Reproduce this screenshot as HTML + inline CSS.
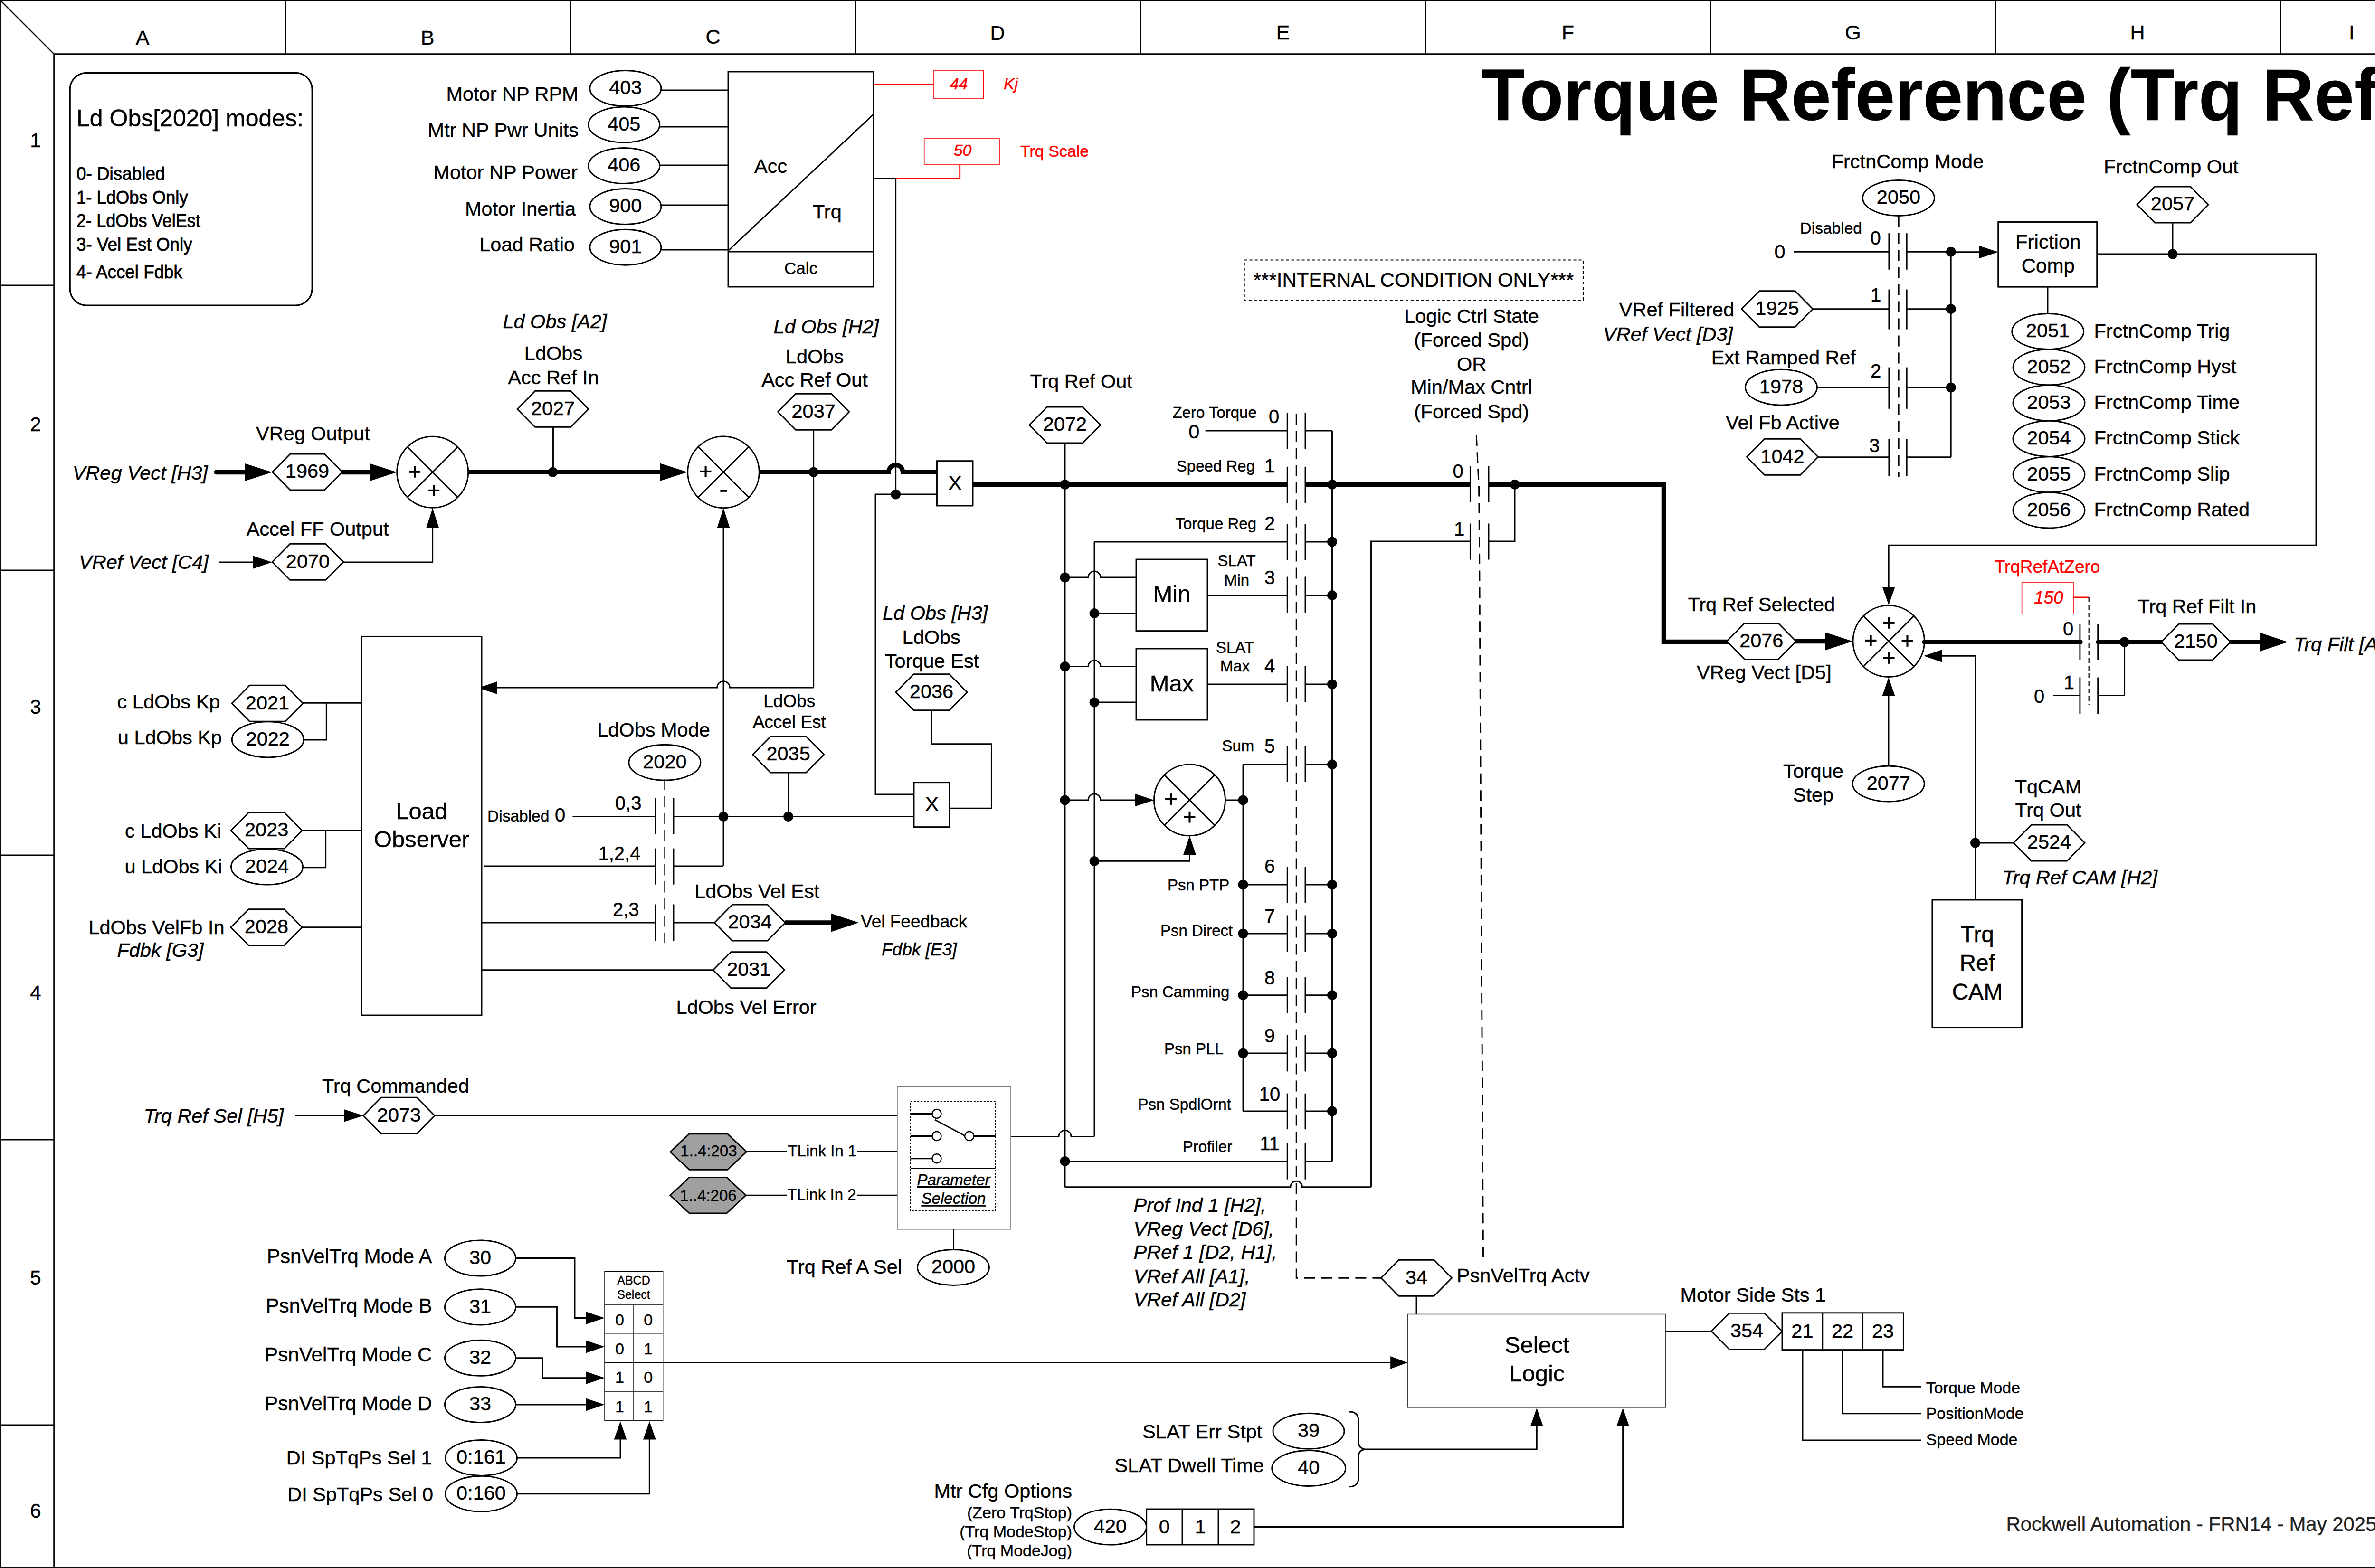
<!DOCTYPE html>
<html><head><meta charset="utf-8"><style>
html,body{margin:0;padding:0;background:#fff;}
svg{display:block;font-family:"Liberation Sans",sans-serif;}
</style></head><body>
<svg width="5101" height="3302" viewBox="0 0 5101 3302">
<rect x="0" y="0" width="5101" height="3302" fill="#fff"/>
<rect x="1.9" y="1.7" width="5098.3" height="3298.4" fill="none" stroke="#000" stroke-width="1.7"/>
<line x1="113.6" y1="113.6" x2="5101" y2="113.6" stroke="#000" stroke-width="2.7" stroke-linecap="butt"/>
<line x1="113.6" y1="113.6" x2="113.6" y2="3302" stroke="#000" stroke-width="2.7" stroke-linecap="butt"/>
<line x1="1" y1="1" x2="113.6" y2="113.6" stroke="#000" stroke-width="2.5" stroke-linecap="butt"/>
<line x1="601" y1="0" x2="601" y2="113" stroke="#000" stroke-width="2.8" stroke-linecap="butt"/>
<line x1="1201" y1="0" x2="1201" y2="113" stroke="#000" stroke-width="2.8" stroke-linecap="butt"/>
<line x1="1801" y1="0" x2="1801" y2="113" stroke="#000" stroke-width="2.8" stroke-linecap="butt"/>
<line x1="2401" y1="0" x2="2401" y2="113" stroke="#000" stroke-width="2.8" stroke-linecap="butt"/>
<line x1="3001" y1="0" x2="3001" y2="113" stroke="#000" stroke-width="2.8" stroke-linecap="butt"/>
<line x1="3601" y1="0" x2="3601" y2="113" stroke="#000" stroke-width="2.8" stroke-linecap="butt"/>
<line x1="4201" y1="0" x2="4201" y2="113" stroke="#000" stroke-width="2.8" stroke-linecap="butt"/>
<line x1="4801" y1="0" x2="4801" y2="113" stroke="#000" stroke-width="2.8" stroke-linecap="butt"/>
<line x1="0" y1="601" x2="113" y2="601" stroke="#000" stroke-width="2.8" stroke-linecap="butt"/>
<line x1="0" y1="1201" x2="113" y2="1201" stroke="#000" stroke-width="2.8" stroke-linecap="butt"/>
<line x1="0" y1="1801" x2="113" y2="1801" stroke="#000" stroke-width="2.8" stroke-linecap="butt"/>
<line x1="0" y1="2400" x2="113" y2="2400" stroke="#000" stroke-width="2.8" stroke-linecap="butt"/>
<line x1="0" y1="3001" x2="113" y2="3001" stroke="#000" stroke-width="2.8" stroke-linecap="butt"/>
<text x="300" y="93.5" font-size="43" text-anchor="middle" fill="#000" stroke="#000" stroke-width="0.45">A</text>
<text x="900" y="93.5" font-size="43" text-anchor="middle" fill="#000" stroke="#000" stroke-width="0.45">B</text>
<text x="1501" y="92" font-size="43" text-anchor="middle" fill="#000" stroke="#000" stroke-width="0.45">C</text>
<text x="2100" y="84" font-size="43" text-anchor="middle" fill="#000" stroke="#000" stroke-width="0.45">D</text>
<text x="2701" y="83" font-size="43" text-anchor="middle" fill="#000" stroke="#000" stroke-width="0.45">E</text>
<text x="3301" y="83" font-size="43" text-anchor="middle" fill="#000" stroke="#000" stroke-width="0.45">F</text>
<text x="3901" y="83" font-size="43" text-anchor="middle" fill="#000" stroke="#000" stroke-width="0.45">G</text>
<text x="4500" y="83" font-size="43" text-anchor="middle" fill="#000" stroke="#000" stroke-width="0.45">H</text>
<text x="4951" y="83" font-size="43" text-anchor="middle" fill="#000" stroke="#000" stroke-width="0.45">I</text>
<text x="75" y="309.6" font-size="42" text-anchor="middle" fill="#000" stroke="#000" stroke-width="0.45">1</text>
<text x="75" y="908" font-size="42" text-anchor="middle" fill="#000" stroke="#000" stroke-width="0.45">2</text>
<text x="75" y="1502.7" font-size="42" text-anchor="middle" fill="#000" stroke="#000" stroke-width="0.45">3</text>
<text x="75" y="2105.4" font-size="42" text-anchor="middle" fill="#000" stroke="#000" stroke-width="0.45">4</text>
<text x="75" y="2704.7" font-size="42" text-anchor="middle" fill="#000" stroke="#000" stroke-width="0.45">5</text>
<text x="75" y="3195.7" font-size="42" text-anchor="middle" fill="#000" stroke="#000" stroke-width="0.45">6</text>
<text x="3118" y="253" font-size="154" text-anchor="start" fill="#000" stroke="#000" stroke-width="0.45" font-weight="bold" textLength="1939" lengthAdjust="spacingAndGlyphs">Torque Reference (Trq Ref)</text>
<rect x="147.2" y="153.3" width="510.00000000000006" height="489.8" fill="none" stroke="#000" stroke-width="3.2" rx="35"/>
<text x="161" y="266" font-size="50" text-anchor="start" fill="#000" stroke="#000" stroke-width="0.45">Ld Obs[2020] modes:</text>
<text x="161" y="379" font-size="39" text-anchor="start" fill="#000" stroke="#000" stroke-width="0.9" textLength="186.4" lengthAdjust="spacingAndGlyphs">0- Disabled</text>
<text x="161" y="428.6" font-size="39" text-anchor="start" fill="#000" stroke="#000" stroke-width="0.9" textLength="234.6" lengthAdjust="spacingAndGlyphs">1- LdObs Only</text>
<text x="161" y="478" font-size="39" text-anchor="start" fill="#000" stroke="#000" stroke-width="0.9" textLength="260.9" lengthAdjust="spacingAndGlyphs">2- LdObs VelEst</text>
<text x="161" y="528" font-size="39" text-anchor="start" fill="#000" stroke="#000" stroke-width="0.9" textLength="243.7" lengthAdjust="spacingAndGlyphs">3- Vel Est Only</text>
<text x="161" y="585.5" font-size="39" text-anchor="start" fill="#000" stroke="#000" stroke-width="0.9" textLength="223" lengthAdjust="spacingAndGlyphs">4- Accel Fdbk</text>
<line x1="1390.8" y1="190" x2="1533" y2="190" stroke="#000" stroke-width="2.9" stroke-linecap="butt"/>
<ellipse cx="1316.8" cy="186" rx="75" ry="37.5" fill="#fff" stroke="#000" stroke-width="2.9"/>
<text x="1316.8" y="198.4" font-size="41.5" text-anchor="middle" fill="#000" stroke="#000" stroke-width="0.45">403</text>
<text x="1217.7" y="211.6" font-size="41.5" text-anchor="end" fill="#000" stroke="#000" stroke-width="0.45">Motor NP RPM</text>
<line x1="1387.8" y1="267" x2="1533" y2="267" stroke="#000" stroke-width="2.9" stroke-linecap="butt"/>
<ellipse cx="1313.8" cy="262.5" rx="75" ry="37.5" fill="#fff" stroke="#000" stroke-width="2.9"/>
<text x="1313.8" y="274.9" font-size="41.5" text-anchor="middle" fill="#000" stroke="#000" stroke-width="0.45">405</text>
<text x="1218" y="288" font-size="41.5" text-anchor="end" fill="#000" stroke="#000" stroke-width="0.45">Mtr NP Pwr Units</text>
<line x1="1387.8" y1="348" x2="1533" y2="348" stroke="#000" stroke-width="2.9" stroke-linecap="butt"/>
<ellipse cx="1313.8" cy="349" rx="75" ry="37.5" fill="#fff" stroke="#000" stroke-width="2.9"/>
<text x="1313.8" y="361.4" font-size="41.5" text-anchor="middle" fill="#000" stroke="#000" stroke-width="0.45">406</text>
<text x="1216" y="376.6" font-size="41.5" text-anchor="end" fill="#000" stroke="#000" stroke-width="0.45">Motor NP Power</text>
<line x1="1390.8" y1="432" x2="1533" y2="432" stroke="#000" stroke-width="2.9" stroke-linecap="butt"/>
<ellipse cx="1316.8" cy="435" rx="75" ry="37.5" fill="#fff" stroke="#000" stroke-width="2.9"/>
<text x="1316.8" y="447.4" font-size="41.5" text-anchor="middle" fill="#000" stroke="#000" stroke-width="0.45">900</text>
<text x="1212" y="453.7" font-size="41.5" text-anchor="end" fill="#000" stroke="#000" stroke-width="0.45">Motor Inertia</text>
<line x1="1390.8" y1="526" x2="1533" y2="526" stroke="#000" stroke-width="2.9" stroke-linecap="butt"/>
<ellipse cx="1316.8" cy="520.7" rx="75" ry="37.5" fill="#fff" stroke="#000" stroke-width="2.9"/>
<text x="1316.8" y="533.1" font-size="41.5" text-anchor="middle" fill="#000" stroke="#000" stroke-width="0.45">901</text>
<text x="1210" y="529" font-size="41.5" text-anchor="end" fill="#000" stroke="#000" stroke-width="0.45">Load Ratio</text>
<rect x="1533" y="151" width="305.5999999999999" height="453" fill="none" stroke="#000" stroke-width="2.9"/>
<line x1="1533" y1="530" x2="1838.6" y2="530" stroke="#000" stroke-width="2.9" stroke-linecap="butt"/>
<line x1="1533" y1="528" x2="1838.6" y2="241" stroke="#000" stroke-width="2.9" stroke-linecap="butt"/>
<text x="1588" y="364" font-size="41.5" text-anchor="start" fill="#000" stroke="#000" stroke-width="0.45">Acc</text>
<text x="1711" y="460" font-size="41.5" text-anchor="start" fill="#000" stroke="#000" stroke-width="0.45">Trq</text>
<text x="1686" y="577" font-size="35" text-anchor="middle" fill="#000" stroke="#000" stroke-width="0.45">Calc</text>
<line x1="1838.6" y1="178" x2="1966" y2="178" stroke="#ff0000" stroke-width="2.9" stroke-linecap="butt"/>
<rect x="1966" y="148" width="104.5" height="60" fill="#fff" stroke="#ff0000" stroke-width="1.6"/>
<text x="2018.6" y="187.5" font-size="34" text-anchor="middle" fill="#ff0000" stroke="#ff0000" stroke-width="0.45" font-style="italic">44</text>
<text x="2113" y="187.5" font-size="34" text-anchor="start" fill="#ff0000" stroke="#ff0000" stroke-width="0.45" font-style="italic">Kj</text>
<rect x="1945.7" y="292" width="158.29999999999995" height="55" fill="#fff" stroke="#ff0000" stroke-width="1.6"/>
<text x="2026.6" y="328" font-size="34" text-anchor="middle" fill="#ff0000" stroke="#ff0000" stroke-width="0.45" font-style="italic">50</text>
<text x="2148" y="329.5" font-size="34" text-anchor="start" fill="#ff0000" stroke="#ff0000" stroke-width="0.45">Trq Scale</text>
<polyline points="2020.7,347 2020.7,376 1885.7,376" fill="none" stroke="#ff0000" stroke-width="2.9" stroke-linecap="butt" stroke-linejoin="miter"/>
<line x1="1838.6" y1="376" x2="1885.7" y2="376" stroke="#000" stroke-width="2.9" stroke-linecap="butt"/>
<text x="152.7" y="1009.8" font-size="41.5" text-anchor="start" fill="#000" stroke="#000" stroke-width="0.45" font-style="italic">VReg Vect [H3]</text>
<line x1="455" y1="994.5" x2="520" y2="994.5" stroke="#000" stroke-width="9.5" stroke-linecap="round"/>
<polygon points="573.0,994.5 515.0,975.8 515.0,1013.2" fill="#000"/>
<polygon points="573.5,994.0 611.0,956.0 683.0,956.0 720.5,994.0 683.0,1032.0 611.0,1032.0" fill="#fff" stroke="#000" stroke-width="2.9"/>
<text x="647" y="1006.4" font-size="41.5" text-anchor="middle" fill="#000" stroke="#000" stroke-width="0.45">1969</text>
<line x1="720.5" y1="994.5" x2="780" y2="994.5" stroke="#000" stroke-width="9.5" stroke-linecap="butt"/>
<polygon points="835.7,994.5 778.0,975.8 778.0,1013.2" fill="#000"/>
<text x="659" y="926.8" font-size="41.5" text-anchor="middle" fill="#000" stroke="#000" stroke-width="0.45">VReg Output</text>
<circle cx="910.7" cy="994.3" r="75" fill="#fff" stroke="#000" stroke-width="2.9"/>
<line x1="857.6675" y1="941.2674999999999" x2="963.7325000000001" y2="1047.3325" stroke="#000" stroke-width="2.9" stroke-linecap="butt"/>
<line x1="857.6675" y1="1047.3325" x2="963.7325000000001" y2="941.2674999999999" stroke="#000" stroke-width="2.9" stroke-linecap="butt"/>
<rect x="861.30" y="991.75" width="23.8" height="4.1" fill="#000"/>
<rect x="871.15" y="981.90" width="4.1" height="23.8" fill="#000"/>
<rect x="901.50" y="1030.85" width="23.8" height="4.1" fill="#000"/>
<rect x="911.35" y="1021.00" width="4.1" height="23.8" fill="#000"/>
<line x1="985.7" y1="994.3" x2="1392" y2="994.3" stroke="#000" stroke-width="9.5" stroke-linecap="butt"/>
<polygon points="1447.5,994.3 1389.0,975.5 1389.0,1013.0" fill="#000"/>
<line x1="1164.5" y1="899.4" x2="1164.5" y2="994.3" stroke="#000" stroke-width="2.9" stroke-linecap="butt"/>
<circle cx="1163.6" cy="994.3" r="10.5" fill="#000"/>
<polygon points="1089.0,861.4 1126.5,823.4 1201.5,823.4 1239.0,861.4 1201.5,899.4 1126.5,899.4" fill="#fff" stroke="#000" stroke-width="2.9"/>
<text x="1164" y="873.8" font-size="41.5" text-anchor="middle" fill="#000" stroke="#000" stroke-width="0.45">2027</text>
<text x="1168" y="691" font-size="41.5" text-anchor="middle" fill="#000" stroke="#000" stroke-width="0.45" font-style="italic">Ld Obs [A2]</text>
<text x="1165" y="758" font-size="41.5" text-anchor="middle" fill="#000" stroke="#000" stroke-width="0.45">LdObs</text>
<text x="1165" y="809" font-size="41.5" text-anchor="middle" fill="#000" stroke="#000" stroke-width="0.45">Acc Ref In</text>
<text x="668.6" y="1127.7" font-size="41.5" text-anchor="middle" fill="#000" stroke="#000" stroke-width="0.45">Accel FF Output</text>
<text x="166" y="1198.4" font-size="41.5" text-anchor="start" fill="#000" stroke="#000" stroke-width="0.45" font-style="italic">VRef Vect [C4]</text>
<line x1="460.7" y1="1184" x2="540" y2="1184" stroke="#000" stroke-width="2.9" stroke-linecap="butt"/>
<polygon points="573.0,1184.0 533.0,1170.6 533.0,1197.4" fill="#000"/>
<polygon points="573.0,1183.4 610.5,1145.4 685.5,1145.4 723.0,1183.4 685.5,1221.4 610.5,1221.4" fill="#fff" stroke="#000" stroke-width="2.9"/>
<text x="648" y="1195.8000000000002" font-size="41.5" text-anchor="middle" fill="#000" stroke="#000" stroke-width="0.45">2070</text>
<polyline points="723,1184 910.7,1184 910.7,1105" fill="none" stroke="#000" stroke-width="2.9" stroke-linecap="butt" stroke-linejoin="miter"/>
<polygon points="910.7,1070.0 897.3,1111.6 924.1,1111.6" fill="#000"/>
<circle cx="1523" cy="994.3" r="75.3" fill="#fff" stroke="#000" stroke-width="2.9"/>
<line x1="1469.75537" y1="941.0553699999999" x2="1576.24463" y2="1047.5446299999999" stroke="#000" stroke-width="2.9" stroke-linecap="butt"/>
<line x1="1469.75537" y1="1047.5446299999999" x2="1576.24463" y2="941.0553699999999" stroke="#000" stroke-width="2.9" stroke-linecap="butt"/>
<rect x="1473.70" y="990.85" width="23.8" height="4.1" fill="#000"/>
<rect x="1483.55" y="981.00" width="4.1" height="23.8" fill="#000"/>
<rect x="1516.30" y="1031.80" width="13.8" height="4" fill="#000"/>
<line x1="1523" y1="1105" x2="1523" y2="1824" stroke="#000" stroke-width="2.9" stroke-linecap="butt"/>
<polygon points="1523.0,1070.0 1509.6,1111.6 1536.4,1111.6" fill="#000"/>
<path d="M1598,994.3 L1870.7,994.3 A15,15 0 0 1 1900.7,994.3 L1972.5,994.3" fill="none" stroke="#000" stroke-width="9.5"/>
<circle cx="1712.7" cy="994.3" r="10.5" fill="#000"/>
<polygon points="1637.7,867.3 1675.2,829.3 1750.2,829.3 1787.7,867.3 1750.2,905.3 1675.2,905.3" fill="#fff" stroke="#000" stroke-width="2.9"/>
<text x="1712.7" y="879.6999999999999" font-size="41.5" text-anchor="middle" fill="#000" stroke="#000" stroke-width="0.45">2037</text>
<line x1="1712.7" y1="905.3" x2="1712.7" y2="1448" stroke="#000" stroke-width="2.9" stroke-linecap="butt"/>
<path d="M1040,1448 L1509.6,1448 A13.4,13.4 0 0 1 1536.4,1448 L1712.7,1448" fill="none" stroke="#000" stroke-width="2.9"/>
<polygon points="1007.0,1448.5 1047.0,1435.1 1047.0,1461.9" fill="#000"/>
<text x="1628.6" y="702" font-size="41.5" text-anchor="start" fill="#000" stroke="#000" stroke-width="0.45" font-style="italic">Ld Obs [H2]</text>
<text x="1715" y="765" font-size="41.5" text-anchor="middle" fill="#000" stroke="#000" stroke-width="0.45">LdObs</text>
<text x="1715" y="814" font-size="41.5" text-anchor="middle" fill="#000" stroke="#000" stroke-width="0.45">Acc Ref Out</text>
<line x1="1885.7" y1="376" x2="1885.7" y2="1041" stroke="#000" stroke-width="2.9" stroke-linecap="butt"/>
<circle cx="1885.7" cy="1041" r="10.5" fill="#000"/>
<polyline points="1970,1041 1843,1041 1843,1673 1924.3,1673" fill="none" stroke="#000" stroke-width="2.9" stroke-linecap="butt" stroke-linejoin="miter"/>
<rect x="1972.5" y="970.7" width="75.5" height="94.29999999999995" fill="#fff" stroke="#000" stroke-width="2.9"/>
<text x="2010.5" y="1031" font-size="41.5" text-anchor="middle" fill="#000" stroke="#000" stroke-width="0.45">X</text>
<line x1="2048" y1="1020.5" x2="2710.2" y2="1020.5" stroke="#000" stroke-width="9.5" stroke-linecap="butt"/>
<circle cx="2242" cy="1020.5" r="10.5" fill="#000"/>
<polygon points="2167.0,895.0 2204.5,857.0 2279.5,857.0 2317.0,895.0 2279.5,933.0 2204.5,933.0" fill="#fff" stroke="#000" stroke-width="2.9"/>
<text x="2242" y="907.4" font-size="41.5" text-anchor="middle" fill="#000" stroke="#000" stroke-width="0.45">2072</text>
<text x="2168.6" y="817" font-size="41.5" text-anchor="start" fill="#000" stroke="#000" stroke-width="0.45">Trq Ref Out</text>
<!--SECTION2-->
<line x1="2804.5" y1="907.1" x2="2804.5" y2="2445.4" stroke="#000" stroke-width="2.9" stroke-linecap="butt"/>
<line x1="2710.2" y1="869.7" x2="2710.2" y2="945.7" stroke="#000" stroke-width="2.9" stroke-linecap="butt"/>
<line x1="2748.0" y1="869.7" x2="2748.0" y2="945.7" stroke="#000" stroke-width="2.9" stroke-linecap="butt"/>
<text x="2682" y="891.4" font-size="40" text-anchor="middle" fill="#000" stroke="#000" stroke-width="0.45">0</text>
<line x1="2748.0" y1="907.1" x2="2804.5" y2="907.1" stroke="#000" stroke-width="2.9" stroke-linecap="butt"/>
<line x1="2710.2" y1="982.8" x2="2710.2" y2="1059" stroke="#000" stroke-width="2.9" stroke-linecap="butt"/>
<line x1="2748.0" y1="982.8" x2="2748.0" y2="1059" stroke="#000" stroke-width="2.9" stroke-linecap="butt"/>
<text x="2673" y="994.5" font-size="40" text-anchor="middle" fill="#000" stroke="#000" stroke-width="0.45">1</text>
<line x1="2710.2" y1="1103.6" x2="2710.2" y2="1180" stroke="#000" stroke-width="2.9" stroke-linecap="butt"/>
<line x1="2748.0" y1="1103.6" x2="2748.0" y2="1180" stroke="#000" stroke-width="2.9" stroke-linecap="butt"/>
<text x="2673" y="1116" font-size="40" text-anchor="middle" fill="#000" stroke="#000" stroke-width="0.45">2</text>
<line x1="2748.0" y1="1141" x2="2804.5" y2="1141" stroke="#000" stroke-width="2.9" stroke-linecap="butt"/>
<line x1="2710.2" y1="1214.5" x2="2710.2" y2="1291" stroke="#000" stroke-width="2.9" stroke-linecap="butt"/>
<line x1="2748.0" y1="1214.5" x2="2748.0" y2="1291" stroke="#000" stroke-width="2.9" stroke-linecap="butt"/>
<text x="2673" y="1229.5" font-size="40" text-anchor="middle" fill="#000" stroke="#000" stroke-width="0.45">3</text>
<line x1="2748.0" y1="1253.6" x2="2804.5" y2="1253.6" stroke="#000" stroke-width="2.9" stroke-linecap="butt"/>
<line x1="2710.2" y1="1402.5" x2="2710.2" y2="1478.6" stroke="#000" stroke-width="2.9" stroke-linecap="butt"/>
<line x1="2748.0" y1="1402.5" x2="2748.0" y2="1478.6" stroke="#000" stroke-width="2.9" stroke-linecap="butt"/>
<text x="2673" y="1416" font-size="40" text-anchor="middle" fill="#000" stroke="#000" stroke-width="0.45">4</text>
<line x1="2748.0" y1="1441" x2="2804.5" y2="1441" stroke="#000" stroke-width="2.9" stroke-linecap="butt"/>
<line x1="2710.2" y1="1570.7" x2="2710.2" y2="1647" stroke="#000" stroke-width="2.9" stroke-linecap="butt"/>
<line x1="2748.0" y1="1570.7" x2="2748.0" y2="1647" stroke="#000" stroke-width="2.9" stroke-linecap="butt"/>
<text x="2673" y="1584.6" font-size="40" text-anchor="middle" fill="#000" stroke="#000" stroke-width="0.45">5</text>
<line x1="2748.0" y1="1609.8" x2="2804.5" y2="1609.8" stroke="#000" stroke-width="2.9" stroke-linecap="butt"/>
<line x1="2710.2" y1="1825.7" x2="2710.2" y2="1901.8" stroke="#000" stroke-width="2.9" stroke-linecap="butt"/>
<line x1="2748.0" y1="1825.7" x2="2748.0" y2="1901.8" stroke="#000" stroke-width="2.9" stroke-linecap="butt"/>
<text x="2673" y="1837.5" font-size="40" text-anchor="middle" fill="#000" stroke="#000" stroke-width="0.45">6</text>
<line x1="2748.0" y1="1863" x2="2804.5" y2="1863" stroke="#000" stroke-width="2.9" stroke-linecap="butt"/>
<line x1="2710.2" y1="1927.5" x2="2710.2" y2="2004.6" stroke="#000" stroke-width="2.9" stroke-linecap="butt"/>
<line x1="2748.0" y1="1927.5" x2="2748.0" y2="2004.6" stroke="#000" stroke-width="2.9" stroke-linecap="butt"/>
<text x="2673" y="1943" font-size="40" text-anchor="middle" fill="#000" stroke="#000" stroke-width="0.45">7</text>
<line x1="2748.0" y1="1966" x2="2804.5" y2="1966" stroke="#000" stroke-width="2.9" stroke-linecap="butt"/>
<line x1="2710.2" y1="2057" x2="2710.2" y2="2133.7" stroke="#000" stroke-width="2.9" stroke-linecap="butt"/>
<line x1="2748.0" y1="2057" x2="2748.0" y2="2133.7" stroke="#000" stroke-width="2.9" stroke-linecap="butt"/>
<text x="2673" y="2073" font-size="40" text-anchor="middle" fill="#000" stroke="#000" stroke-width="0.45">8</text>
<line x1="2748.0" y1="2095.7" x2="2804.5" y2="2095.7" stroke="#000" stroke-width="2.9" stroke-linecap="butt"/>
<line x1="2710.2" y1="2180" x2="2710.2" y2="2256.4" stroke="#000" stroke-width="2.9" stroke-linecap="butt"/>
<line x1="2748.0" y1="2180" x2="2748.0" y2="2256.4" stroke="#000" stroke-width="2.9" stroke-linecap="butt"/>
<text x="2673" y="2195" font-size="40" text-anchor="middle" fill="#000" stroke="#000" stroke-width="0.45">9</text>
<line x1="2748.0" y1="2218" x2="2804.5" y2="2218" stroke="#000" stroke-width="2.9" stroke-linecap="butt"/>
<line x1="2710.2" y1="2302.7" x2="2710.2" y2="2378.3" stroke="#000" stroke-width="2.9" stroke-linecap="butt"/>
<line x1="2748.0" y1="2302.7" x2="2748.0" y2="2378.3" stroke="#000" stroke-width="2.9" stroke-linecap="butt"/>
<text x="2673" y="2318.3" font-size="40" text-anchor="middle" fill="#000" stroke="#000" stroke-width="0.45">10</text>
<line x1="2748.0" y1="2340" x2="2804.5" y2="2340" stroke="#000" stroke-width="2.9" stroke-linecap="butt"/>
<line x1="2710.2" y1="2408" x2="2710.2" y2="2483.7" stroke="#000" stroke-width="2.9" stroke-linecap="butt"/>
<line x1="2748.0" y1="2408" x2="2748.0" y2="2483.7" stroke="#000" stroke-width="2.9" stroke-linecap="butt"/>
<text x="2673" y="2422" font-size="40" text-anchor="middle" fill="#000" stroke="#000" stroke-width="0.45">11</text>
<line x1="2748.0" y1="2445.4" x2="2804.5" y2="2445.4" stroke="#000" stroke-width="2.9" stroke-linecap="butt"/>
<circle cx="2804.5" cy="1141" r="10.5" fill="#000"/>
<circle cx="2804.5" cy="1253.6" r="10.5" fill="#000"/>
<circle cx="2804.5" cy="1441" r="10.5" fill="#000"/>
<circle cx="2804.5" cy="1609.8" r="10.5" fill="#000"/>
<circle cx="2804.5" cy="1863" r="10.5" fill="#000"/>
<circle cx="2804.5" cy="1966" r="10.5" fill="#000"/>
<circle cx="2804.5" cy="2095.7" r="10.5" fill="#000"/>
<circle cx="2804.5" cy="2218" r="10.5" fill="#000"/>
<circle cx="2804.5" cy="2340" r="10.5" fill="#000"/>
<circle cx="2804.5" cy="1020.3" r="10.5" fill="#000"/>
<polyline points="2729.2,871.5 2729.2,2691.3 2907,2691.3" fill="none" stroke="#000" stroke-width="2.9" stroke-linecap="butt" stroke-linejoin="miter" stroke-dasharray="23,13"/>
<line x1="2748" y1="1020.3" x2="3095.4" y2="1020.3" stroke="#000" stroke-width="9.5" stroke-linecap="butt"/>
<text x="2645.8" y="880.1" font-size="33" text-anchor="end" fill="#000" stroke="#000" stroke-width="0.45">Zero Torque</text>
<text x="2513.7" y="922.6" font-size="41.5" text-anchor="middle" fill="#000" stroke="#000" stroke-width="0.45">0</text>
<line x1="2537.6" y1="907.1" x2="2710.2" y2="907.1" stroke="#000" stroke-width="2.9" stroke-linecap="butt"/>
<text x="2642" y="992.6" font-size="33" text-anchor="end" fill="#000" stroke="#000" stroke-width="0.45">Speed Reg</text>
<text x="2645" y="1114" font-size="33" text-anchor="end" fill="#000" stroke="#000" stroke-width="0.45">Torque Reg</text>
<text x="2603.6" y="1192" font-size="33" text-anchor="middle" fill="#000" stroke="#000" stroke-width="0.45">SLAT</text>
<text x="2603.6" y="1233" font-size="33" text-anchor="middle" fill="#000" stroke="#000" stroke-width="0.45">Min</text>
<text x="2600" y="1375" font-size="33" text-anchor="middle" fill="#000" stroke="#000" stroke-width="0.45">SLAT</text>
<text x="2600" y="1414" font-size="33" text-anchor="middle" fill="#000" stroke="#000" stroke-width="0.45">Max</text>
<text x="2572.5" y="1582" font-size="33" text-anchor="start" fill="#000" stroke="#000" stroke-width="0.45">Sum</text>
<text x="2458" y="1875" font-size="33" text-anchor="start" fill="#000" stroke="#000" stroke-width="0.45">Psn PTP</text>
<text x="2443" y="1971.4" font-size="33" text-anchor="start" fill="#000" stroke="#000" stroke-width="0.45">Psn Direct</text>
<text x="2381" y="2100" font-size="33" text-anchor="start" fill="#000" stroke="#000" stroke-width="0.45">Psn Camming</text>
<text x="2451" y="2219.5" font-size="33" text-anchor="start" fill="#000" stroke="#000" stroke-width="0.45">Psn PLL</text>
<text x="2395.6" y="2336.8" font-size="33" text-anchor="start" fill="#000" stroke="#000" stroke-width="0.45">Psn SpdlOrnt</text>
<text x="2489.7" y="2426" font-size="33" text-anchor="start" fill="#000" stroke="#000" stroke-width="0.45">Profiler</text>
<line x1="2242" y1="933" x2="2242" y2="2499.6" stroke="#000" stroke-width="2.9" stroke-linecap="butt"/>
<line x1="2304" y1="1141" x2="2304" y2="2393.4" stroke="#000" stroke-width="2.9" stroke-linecap="butt"/>
<line x1="2304" y1="1141" x2="2710.2" y2="1141" stroke="#000" stroke-width="2.9" stroke-linecap="butt"/>
<circle cx="2242" cy="1216" r="10.5" fill="#000"/>
<circle cx="2242" cy="1403.6" r="10.5" fill="#000"/>
<circle cx="2242" cy="1684.9" r="10.5" fill="#000"/>
<circle cx="2242" cy="2445.4" r="10.5" fill="#000"/>
<circle cx="2304" cy="1291.6" r="10.5" fill="#000"/>
<circle cx="2304" cy="1479" r="10.5" fill="#000"/>
<circle cx="2304" cy="1813.4" r="10.5" fill="#000"/>
<path d="M2242,1216 L2291,1216 A13,13 0 0 1 2317,1216 L2392,1216" fill="none" stroke="#000" stroke-width="2.9"/>
<path d="M2242,1403.6 L2291,1403.6 A13,13 0 0 1 2317,1403.6 L2392,1403.6" fill="none" stroke="#000" stroke-width="2.9"/>
<line x1="2304" y1="1291.6" x2="2392" y2="1291.6" stroke="#000" stroke-width="2.9" stroke-linecap="butt"/>
<line x1="2304" y1="1479" x2="2392" y2="1479" stroke="#000" stroke-width="2.9" stroke-linecap="butt"/>
<rect x="2392" y="1178" width="150" height="150.5999999999999" fill="#fff" stroke="#000" stroke-width="2.9"/>
<text x="2467" y="1267" font-size="49" text-anchor="middle" fill="#000" stroke="#000" stroke-width="0.45">Min</text>
<rect x="2392" y="1366" width="150" height="150" fill="#fff" stroke="#000" stroke-width="2.9"/>
<text x="2467" y="1456" font-size="49" text-anchor="middle" fill="#000" stroke="#000" stroke-width="0.45">Max</text>
<line x1="2542" y1="1253.6" x2="2710.2" y2="1253.6" stroke="#000" stroke-width="2.9" stroke-linecap="butt"/>
<line x1="2542" y1="1441" x2="2710.2" y2="1441" stroke="#000" stroke-width="2.9" stroke-linecap="butt"/>
<path d="M2242,1684.9 L2291,1684.9 A13,13 0 0 1 2317,1684.9 L2395,1684.9" fill="none" stroke="#000" stroke-width="2.9"/>
<polygon points="2429.5,1684.9 2389.5,1671.5 2389.5,1698.3" fill="#000"/>
<circle cx="2504.5" cy="1684.9" r="75" fill="#fff" stroke="#000" stroke-width="2.9"/>
<line x1="2451.4675" y1="1631.8675" x2="2557.5325" y2="1737.9325000000001" stroke="#000" stroke-width="2.9" stroke-linecap="butt"/>
<line x1="2451.4675" y1="1737.9325000000001" x2="2557.5325" y2="1631.8675" stroke="#000" stroke-width="2.9" stroke-linecap="butt"/>
<rect x="2453.10" y="1680.95" width="23.8" height="4.1" fill="#000"/>
<rect x="2462.95" y="1671.10" width="4.1" height="23.8" fill="#000"/>
<rect x="2492.60" y="1718.65" width="23.8" height="4.1" fill="#000"/>
<rect x="2502.45" y="1708.80" width="4.1" height="23.8" fill="#000"/>
<polyline points="2304,1813.4 2504.5,1813.4 2504.5,1795" fill="none" stroke="#000" stroke-width="2.9" stroke-linecap="butt" stroke-linejoin="miter"/>
<polygon points="2504.5,1760.0 2491.1,1800.0 2517.9,1800.0" fill="#000"/>
<line x1="2579.5" y1="1684.9" x2="2617" y2="1684.9" stroke="#000" stroke-width="2.9" stroke-linecap="butt"/>
<line x1="2617" y1="1609.8" x2="2617" y2="2340" stroke="#000" stroke-width="2.9" stroke-linecap="butt"/>
<line x1="2617" y1="1609.8" x2="2710.2" y2="1609.8" stroke="#000" stroke-width="2.9" stroke-linecap="butt"/>
<circle cx="2617" cy="1684.9" r="10.5" fill="#000"/>
<circle cx="2617" cy="1863" r="10.5" fill="#000"/>
<circle cx="2617" cy="1966" r="10.5" fill="#000"/>
<circle cx="2617" cy="2095.7" r="10.5" fill="#000"/>
<circle cx="2617" cy="2218" r="10.5" fill="#000"/>
<line x1="2617" y1="1863" x2="2710.2" y2="1863" stroke="#000" stroke-width="2.9" stroke-linecap="butt"/>
<line x1="2617" y1="1966" x2="2710.2" y2="1966" stroke="#000" stroke-width="2.9" stroke-linecap="butt"/>
<line x1="2617" y1="2095.7" x2="2710.2" y2="2095.7" stroke="#000" stroke-width="2.9" stroke-linecap="butt"/>
<line x1="2617" y1="2218" x2="2710.2" y2="2218" stroke="#000" stroke-width="2.9" stroke-linecap="butt"/>
<line x1="2617" y1="2340" x2="2710.2" y2="2340" stroke="#000" stroke-width="2.9" stroke-linecap="butt"/>
<line x1="2242" y1="2445.4" x2="2710.2" y2="2445.4" stroke="#000" stroke-width="2.9" stroke-linecap="butt"/>
<path d="M2241.5,2499.6 L2716.8999999999996,2499.6 A12.3,12.3 0 0 1 2741.5,2499.6 L2886.7,2499.6" fill="none" stroke="#000" stroke-width="2.9"/>
<polyline points="2886.5,2499.6 2886.5,1140 3095.4,1140" fill="none" stroke="#000" stroke-width="2.9" stroke-linecap="butt" stroke-linejoin="miter"/>
<rect x="1924" y="1647.7" width="75" height="93.89999999999986" fill="#fff" stroke="#000" stroke-width="2.9"/>
<text x="1961.8" y="1707" font-size="41.5" text-anchor="middle" fill="#000" stroke="#000" stroke-width="0.45">X</text>
<polyline points="1999,1702.3 2087.4,1702.3 2087.4,1566.6 1961.3,1566.6 1961.3,1495.7" fill="none" stroke="#000" stroke-width="2.9" stroke-linecap="butt" stroke-linejoin="miter"/>
<polygon points="1886.0,1457.7 1923.5,1419.7 1998.5,1419.7 2036.0,1457.7 1998.5,1495.7 1923.5,1495.7" fill="#fff" stroke="#000" stroke-width="2.9"/>
<text x="1961" y="1470.1000000000001" font-size="41.5" text-anchor="middle" fill="#000" stroke="#000" stroke-width="0.45">2036</text>
<text x="1968.7" y="1304.5" font-size="41.5" text-anchor="middle" fill="#000" stroke="#000" stroke-width="0.45" font-style="italic">Ld Obs [H3]</text>
<text x="1960.7" y="1356.4" font-size="41.5" text-anchor="middle" fill="#000" stroke="#000" stroke-width="0.45">LdObs</text>
<text x="1962" y="1406" font-size="41.5" text-anchor="middle" fill="#000" stroke="#000" stroke-width="0.45">Torque Est</text>
<line x1="3095.4" y1="982" x2="3095.4" y2="1058" stroke="#000" stroke-width="2.9" stroke-linecap="butt"/>
<line x1="3134" y1="982" x2="3134" y2="1058" stroke="#000" stroke-width="2.9" stroke-linecap="butt"/>
<line x1="3095.4" y1="1102.5" x2="3095.4" y2="1178.6" stroke="#000" stroke-width="2.9" stroke-linecap="butt"/>
<line x1="3134" y1="1102.5" x2="3134" y2="1178.6" stroke="#000" stroke-width="2.9" stroke-linecap="butt"/>
<text x="3069.6" y="1006" font-size="40" text-anchor="middle" fill="#000" stroke="#000" stroke-width="0.45">0</text>
<text x="3072" y="1127.7" font-size="40" text-anchor="middle" fill="#000" stroke="#000" stroke-width="0.45">1</text>
<polyline points="3108.2,916.8 3113.6,1027 3114.6,1152 3122.6,2657.5" fill="none" stroke="#000" stroke-width="2.9" stroke-linecap="butt" stroke-linejoin="miter" stroke-dasharray="22,13.6"/>
<circle cx="3189" cy="1020.3" r="10.5" fill="#000"/>
<polyline points="3134,1140 3189,1140 3189,1020.3" fill="none" stroke="#000" stroke-width="2.9" stroke-linecap="butt" stroke-linejoin="miter"/>
<polyline points="3134,1020.3 3502.5,1020.3 3502.5,1351.6 3640,1351.6" fill="none" stroke="#000" stroke-width="9.5" stroke-linecap="butt" stroke-linejoin="miter"/>
<polygon points="3635.3,1350.5 3672.8,1312.5 3743.8,1312.5 3781.3,1350.5 3743.8,1388.5 3672.8,1388.5" fill="#fff" stroke="#000" stroke-width="2.9"/>
<text x="3708.3" y="1362.9" font-size="41.5" text-anchor="middle" fill="#000" stroke="#000" stroke-width="0.45">2076</text>
<line x1="3780" y1="1350.5" x2="3845" y2="1350.5" stroke="#000" stroke-width="9.5" stroke-linecap="butt"/>
<polygon points="3900.5,1350.5 3842.5,1331.6 3842.5,1369.4" fill="#000"/>
<text x="3553.4" y="1286.8" font-size="41.5" text-anchor="start" fill="#000" stroke="#000" stroke-width="0.45">Trq Ref Selected</text>
<text x="3572" y="1430" font-size="41.5" text-anchor="start" fill="#000" stroke="#000" stroke-width="0.45">VReg Vect [D5]</text>
<text x="3098" y="680" font-size="41.5" text-anchor="middle" fill="#000" stroke="#000" stroke-width="0.45">Logic Ctrl State</text>
<text x="3098" y="729.6" font-size="41.5" text-anchor="middle" fill="#000" stroke="#000" stroke-width="0.45">(Forced Spd)</text>
<text x="3098" y="781" font-size="41.5" text-anchor="middle" fill="#000" stroke="#000" stroke-width="0.45">OR</text>
<text x="3098" y="829" font-size="41.5" text-anchor="middle" fill="#000" stroke="#000" stroke-width="0.45">Min/Max Cntrl</text>
<text x="3098" y="881" font-size="41.5" text-anchor="middle" fill="#000" stroke="#000" stroke-width="0.45">(Forced Spd)</text>
<rect x="2619.6" y="547.5" width="713.4000000000001" height="84.5" fill="none" stroke="#000" stroke-width="2.2" stroke-dasharray="6,5"/>
<text x="2976" y="604" font-size="42" text-anchor="middle" fill="#000" stroke="#000" stroke-width="0.45">***INTERNAL CONDITION ONLY***</text>
<!--SECTION3-->
<text x="4016" y="354" font-size="41.5" text-anchor="middle" fill="#000" stroke="#000" stroke-width="0.45">FrctnComp Mode</text>
<ellipse cx="3997" cy="417" rx="75.5" ry="37.5" fill="#fff" stroke="#000" stroke-width="2.9"/>
<text x="3997" y="429.4" font-size="41.5" text-anchor="middle" fill="#000" stroke="#000" stroke-width="0.45">2050</text>
<line x1="3997.2" y1="454.5" x2="3997.2" y2="1005" stroke="#000" stroke-width="2.9" stroke-linecap="butt" stroke-dasharray="23,13"/>
<line x1="3976.9" y1="491.3" x2="3976.9" y2="567.7" stroke="#000" stroke-width="2.9" stroke-linecap="butt"/>
<line x1="4014.2" y1="491.3" x2="4014.2" y2="567.7" stroke="#000" stroke-width="2.9" stroke-linecap="butt"/>
<text x="3948.6" y="515" font-size="40" text-anchor="middle" fill="#000" stroke="#000" stroke-width="0.45">0</text>
<text x="3747" y="544" font-size="41.5" text-anchor="middle" fill="#000" stroke="#000" stroke-width="0.45">0</text>
<line x1="3776.3" y1="530.3" x2="3976.9" y2="530.3" stroke="#000" stroke-width="2.9" stroke-linecap="butt"/>
<text x="3789.6" y="492" font-size="33.5" text-anchor="start" fill="#000" stroke="#000" stroke-width="0.45">Disabled</text>
<line x1="3976.9" y1="609.6" x2="3976.9" y2="693.5" stroke="#000" stroke-width="2.9" stroke-linecap="butt"/>
<line x1="4014.2" y1="609.6" x2="4014.2" y2="693.5" stroke="#000" stroke-width="2.9" stroke-linecap="butt"/>
<text x="3949" y="635.4" font-size="40" text-anchor="middle" fill="#000" stroke="#000" stroke-width="0.45">1</text>
<polygon points="3666.5,650.7 3704.0,612.7 3779.0,612.7 3816.5,650.7 3779.0,688.7 3704.0,688.7" fill="#fff" stroke="#000" stroke-width="2.9"/>
<text x="3741.5" y="663.1" font-size="41.5" text-anchor="middle" fill="#000" stroke="#000" stroke-width="0.45">1925</text>
<line x1="3816.5" y1="650.7" x2="3976.9" y2="650.7" stroke="#000" stroke-width="2.9" stroke-linecap="butt"/>
<text x="3651" y="666" font-size="41.5" text-anchor="end" fill="#000" stroke="#000" stroke-width="0.45">VRef Filtered</text>
<text x="3648" y="718" font-size="41.5" text-anchor="end" fill="#000" stroke="#000" stroke-width="0.45" font-style="italic">VRef Vect [D3]</text>
<line x1="3976.9" y1="773.6" x2="3976.9" y2="860.8" stroke="#000" stroke-width="2.9" stroke-linecap="butt"/>
<line x1="4014.2" y1="773.6" x2="4014.2" y2="860.8" stroke="#000" stroke-width="2.9" stroke-linecap="butt"/>
<text x="3949" y="795" font-size="40" text-anchor="middle" fill="#000" stroke="#000" stroke-width="0.45">2</text>
<ellipse cx="3750" cy="815.6" rx="75.5" ry="37.5" fill="#fff" stroke="#000" stroke-width="2.9"/>
<text x="3750" y="828.0" font-size="41.5" text-anchor="middle" fill="#000" stroke="#000" stroke-width="0.45">1978</text>
<line x1="3825.3" y1="816" x2="3976.9" y2="816" stroke="#000" stroke-width="2.9" stroke-linecap="butt"/>
<text x="3602.7" y="767" font-size="41.5" text-anchor="start" fill="#000" stroke="#000" stroke-width="0.45">Ext Ramped Ref</text>
<line x1="3976.9" y1="924" x2="3976.9" y2="1002.8" stroke="#000" stroke-width="2.9" stroke-linecap="butt"/>
<line x1="4014.2" y1="924" x2="4014.2" y2="1002.8" stroke="#000" stroke-width="2.9" stroke-linecap="butt"/>
<text x="3946" y="952.2" font-size="40" text-anchor="middle" fill="#000" stroke="#000" stroke-width="0.45">3</text>
<polygon points="3677.5,962.3 3715.0,924.3 3790.0,924.3 3827.5,962.3 3790.0,1000.3 3715.0,1000.3" fill="#fff" stroke="#000" stroke-width="2.9"/>
<text x="3752.5" y="974.6999999999999" font-size="41.5" text-anchor="middle" fill="#000" stroke="#000" stroke-width="0.45">1042</text>
<line x1="3827.5" y1="962.6" x2="3976.9" y2="962.6" stroke="#000" stroke-width="2.9" stroke-linecap="butt"/>
<text x="3633" y="904" font-size="41.5" text-anchor="start" fill="#000" stroke="#000" stroke-width="0.45">Vel Fb Active</text>
<line x1="4107.2" y1="530.3" x2="4107.2" y2="962.6" stroke="#000" stroke-width="2.9" stroke-linecap="butt"/>
<line x1="4014.2" y1="530.3" x2="4107.2" y2="530.3" stroke="#000" stroke-width="2.9" stroke-linecap="butt"/>
<line x1="4014.2" y1="650.7" x2="4107.2" y2="650.7" stroke="#000" stroke-width="2.9" stroke-linecap="butt"/>
<line x1="4014.2" y1="816" x2="4107.2" y2="816" stroke="#000" stroke-width="2.9" stroke-linecap="butt"/>
<line x1="4014.2" y1="962.6" x2="4107.2" y2="962.6" stroke="#000" stroke-width="2.9" stroke-linecap="butt"/>
<circle cx="4107.2" cy="530.3" r="10.5" fill="#000"/>
<circle cx="4107.2" cy="650.7" r="10.5" fill="#000"/>
<circle cx="4107.2" cy="816" r="10.5" fill="#000"/>
<line x1="4107.2" y1="530.8" x2="4170" y2="530.8" stroke="#000" stroke-width="2.9" stroke-linecap="butt"/>
<polygon points="4206.7,530.8 4166.7,517.4 4166.7,544.2" fill="#000"/>
<rect x="4206.7" y="467.5" width="208.0" height="136.70000000000005" fill="#fff" stroke="#000" stroke-width="2.9"/>
<text x="4311.8" y="524" font-size="42" text-anchor="middle" fill="#000" stroke="#000" stroke-width="0.45">Friction</text>
<text x="4311.8" y="573.7" font-size="42" text-anchor="middle" fill="#000" stroke="#000" stroke-width="0.45">Comp</text>
<polyline points="4414.7,535 4876,535 4876,1148.3 3976.2,1148.3 3976.2,1240" fill="none" stroke="#000" stroke-width="2.9" stroke-linecap="butt" stroke-linejoin="miter"/>
<polygon points="3976.2,1274.0 3962.8,1236.0 3989.6,1236.0" fill="#000"/>
<circle cx="4574" cy="535" r="10.5" fill="#000"/>
<line x1="4574" y1="469" x2="4574" y2="535" stroke="#000" stroke-width="2.9" stroke-linecap="butt"/>
<polygon points="4499.0,431.0 4536.5,393.0 4611.5,393.0 4649.0,431.0 4611.5,469.0 4536.5,469.0" fill="#fff" stroke="#000" stroke-width="2.9"/>
<text x="4574" y="443.4" font-size="41.5" text-anchor="middle" fill="#000" stroke="#000" stroke-width="0.45">2057</text>
<text x="4429" y="364.6" font-size="41.5" text-anchor="start" fill="#000" stroke="#000" stroke-width="0.45">FrctnComp Out</text>
<line x1="4311" y1="604.2" x2="4311" y2="661" stroke="#000" stroke-width="2.9" stroke-linecap="butt"/>
<ellipse cx="4311.2" cy="698.0" rx="75.5" ry="37.5" fill="#fff" stroke="#000" stroke-width="2.9"/>
<text x="4311.2" y="710.4" font-size="41.5" text-anchor="middle" fill="#000" stroke="#000" stroke-width="0.45">2051</text>
<text x="4408.5" y="710.5" font-size="41.5" text-anchor="start" fill="#000" stroke="#000" stroke-width="0.45">FrctnComp Trig</text>
<ellipse cx="4313.5" cy="773.3" rx="75.5" ry="37.5" fill="#fff" stroke="#000" stroke-width="2.9"/>
<text x="4313.5" y="785.6999999999999" font-size="41.5" text-anchor="middle" fill="#000" stroke="#000" stroke-width="0.45">2052</text>
<text x="4408.5" y="785.8" font-size="41.5" text-anchor="start" fill="#000" stroke="#000" stroke-width="0.45">FrctnComp Hyst</text>
<ellipse cx="4313.5" cy="848.6" rx="75.5" ry="37.5" fill="#fff" stroke="#000" stroke-width="2.9"/>
<text x="4313.5" y="861.0" font-size="41.5" text-anchor="middle" fill="#000" stroke="#000" stroke-width="0.45">2053</text>
<text x="4408.5" y="861.1" font-size="41.5" text-anchor="start" fill="#000" stroke="#000" stroke-width="0.45">FrctnComp Time</text>
<ellipse cx="4313.5" cy="923.9" rx="75.5" ry="37.5" fill="#fff" stroke="#000" stroke-width="2.9"/>
<text x="4313.5" y="936.3" font-size="41.5" text-anchor="middle" fill="#000" stroke="#000" stroke-width="0.45">2054</text>
<text x="4408.5" y="936.4" font-size="41.5" text-anchor="start" fill="#000" stroke="#000" stroke-width="0.45">FrctnComp Stick</text>
<ellipse cx="4313.5" cy="999.2" rx="75.5" ry="37.5" fill="#fff" stroke="#000" stroke-width="2.9"/>
<text x="4313.5" y="1011.6" font-size="41.5" text-anchor="middle" fill="#000" stroke="#000" stroke-width="0.45">2055</text>
<text x="4408.5" y="1011.7" font-size="41.5" text-anchor="start" fill="#000" stroke="#000" stroke-width="0.45">FrctnComp Slip</text>
<ellipse cx="4313.5" cy="1074.5" rx="75.5" ry="37.5" fill="#fff" stroke="#000" stroke-width="2.9"/>
<text x="4313.5" y="1086.9" font-size="41.5" text-anchor="middle" fill="#000" stroke="#000" stroke-width="0.45">2056</text>
<text x="4408.5" y="1087.0" font-size="41.5" text-anchor="start" fill="#000" stroke="#000" stroke-width="0.45">FrctnComp Rated</text>
<circle cx="3976.2" cy="1350.3" r="75.2" fill="#fff" stroke="#000" stroke-width="2.9"/>
<line x1="3923.0260799999996" y1="1297.12608" x2="4029.37392" y2="1403.47392" stroke="#000" stroke-width="2.9" stroke-linecap="butt"/>
<line x1="3923.0260799999996" y1="1403.47392" x2="4029.37392" y2="1297.12608" stroke="#000" stroke-width="2.9" stroke-linecap="butt"/>
<rect x="3964.80" y="1309.85" width="23.8" height="4.1" fill="#000"/>
<rect x="3974.65" y="1300.00" width="4.1" height="23.8" fill="#000"/>
<rect x="3926.70" y="1346.85" width="23.8" height="4.1" fill="#000"/>
<rect x="3936.55" y="1337.00" width="4.1" height="23.8" fill="#000"/>
<rect x="4003.60" y="1347.85" width="23.8" height="4.1" fill="#000"/>
<rect x="4013.45" y="1338.00" width="4.1" height="23.8" fill="#000"/>
<rect x="3964.80" y="1383.85" width="23.8" height="4.1" fill="#000"/>
<rect x="3974.65" y="1374.00" width="4.1" height="23.8" fill="#000"/>
<line x1="4051" y1="1352" x2="4380" y2="1352" stroke="#000" stroke-width="9.5" stroke-linecap="round"/>
<line x1="4378.9" y1="1314" x2="4378.9" y2="1389" stroke="#000" stroke-width="2.9" stroke-linecap="butt"/>
<line x1="4416.7" y1="1314" x2="4416.7" y2="1389" stroke="#000" stroke-width="2.9" stroke-linecap="butt"/>
<line x1="4378.9" y1="1426.5" x2="4378.9" y2="1503" stroke="#000" stroke-width="2.9" stroke-linecap="butt"/>
<line x1="4416.7" y1="1426.5" x2="4416.7" y2="1503" stroke="#000" stroke-width="2.9" stroke-linecap="butt"/>
<text x="4354" y="1338" font-size="40" text-anchor="middle" fill="#000" stroke="#000" stroke-width="0.45">0</text>
<text x="4355.8" y="1451" font-size="40" text-anchor="middle" fill="#000" stroke="#000" stroke-width="0.45">1</text>
<text x="4293" y="1480" font-size="40" text-anchor="middle" fill="#000" stroke="#000" stroke-width="0.45">0</text>
<line x1="4322.5" y1="1464.6" x2="4378.9" y2="1464.6" stroke="#000" stroke-width="2.9" stroke-linecap="butt"/>
<circle cx="4472.6" cy="1352" r="10.5" fill="#000"/>
<polyline points="4416.7,1464.6 4472.6,1464.6 4472.6,1352" fill="none" stroke="#000" stroke-width="2.9" stroke-linecap="butt" stroke-linejoin="miter"/>
<line x1="4417" y1="1352" x2="4552" y2="1352" stroke="#000" stroke-width="9.5" stroke-linecap="round"/>
<polygon points="4549.8,1352.0 4587.3,1314.0 4658.3,1314.0 4695.8,1352.0 4658.3,1390.0 4587.3,1390.0" fill="#fff" stroke="#000" stroke-width="2.9"/>
<text x="4622.8" y="1364.4" font-size="41.5" text-anchor="middle" fill="#000" stroke="#000" stroke-width="0.45">2150</text>
<line x1="4695" y1="1352" x2="4760" y2="1352" stroke="#000" stroke-width="9.5" stroke-linecap="butt"/>
<polygon points="4816.8,1352.0 4757.8,1332.2 4757.8,1371.8" fill="#000"/>
<text x="4829" y="1370.8" font-size="41.5" text-anchor="start" fill="#000" stroke="#000" stroke-width="0.45" font-style="italic">Trq Filt [A2]</text>
<text x="4500.5" y="1291.4" font-size="41.5" text-anchor="start" fill="#000" stroke="#000" stroke-width="0.45">Trq Ref Filt In</text>
<rect x="4256.6" y="1227" width="108.39999999999964" height="66" fill="#fff" stroke="#ff0000" stroke-width="1.6"/>
<text x="4313" y="1271" font-size="37" text-anchor="middle" fill="#ff0000" stroke="#ff0000" stroke-width="0.45" font-style="italic">150</text>
<line x1="4365" y1="1258" x2="4397.7" y2="1258" stroke="#ff0000" stroke-width="2.9" stroke-linecap="butt"/>
<line x1="4397.7" y1="1258" x2="4397.7" y2="1484.5" stroke="#000" stroke-width="2.2" stroke-linecap="butt" stroke-dasharray="10,6"/>
<text x="4198.7" y="1205.6" font-size="37" text-anchor="start" fill="#ff0000" stroke="#ff0000" stroke-width="0.45">TrqRefAtZero</text>
<polygon points="4050.0,1381.3 4089.0,1367.9 4089.0,1394.7" fill="#000"/>
<polyline points="4085,1381.3 4158.8,1381.3 4158.8,1895" fill="none" stroke="#000" stroke-width="2.9" stroke-linecap="butt" stroke-linejoin="miter"/>
<line x1="3976" y1="1462" x2="3976" y2="1612.7" stroke="#000" stroke-width="2.9" stroke-linecap="butt"/>
<polygon points="3976.0,1426.6 3962.6,1465.2 3989.4,1465.2" fill="#000"/>
<ellipse cx="3975.8" cy="1650.5" rx="75.5" ry="37.5" fill="#fff" stroke="#000" stroke-width="2.9"/>
<text x="3975.8" y="1662.9" font-size="41.5" text-anchor="middle" fill="#000" stroke="#000" stroke-width="0.45">2077</text>
<text x="3817.4" y="1638.4" font-size="41.5" text-anchor="middle" fill="#000" stroke="#000" stroke-width="0.45">Torque</text>
<text x="3817.4" y="1687.6" font-size="41.5" text-anchor="middle" fill="#000" stroke="#000" stroke-width="0.45">Step</text>
<circle cx="4158.5" cy="1775" r="10.5" fill="#000"/>
<line x1="4158.5" y1="1775" x2="4239" y2="1775" stroke="#000" stroke-width="2.9" stroke-linecap="butt"/>
<polygon points="4239.0,1775.0 4276.5,1737.0 4351.5,1737.0 4389.0,1775.0 4351.5,1813.0 4276.5,1813.0" fill="#fff" stroke="#000" stroke-width="2.9"/>
<text x="4314" y="1787.4" font-size="41.5" text-anchor="middle" fill="#000" stroke="#000" stroke-width="0.45">2524</text>
<text x="4312" y="1670.5" font-size="41.5" text-anchor="middle" fill="#000" stroke="#000" stroke-width="0.45">TqCAM</text>
<text x="4312" y="1719.7" font-size="41.5" text-anchor="middle" fill="#000" stroke="#000" stroke-width="0.45">Trq Out</text>
<text x="4215.3" y="1861.8" font-size="41.5" text-anchor="start" fill="#000" stroke="#000" stroke-width="0.45" font-style="italic">Trq Ref CAM [H2]</text>
<rect x="4067.9" y="1895" width="188.70000000000027" height="268.5999999999999" fill="#fff" stroke="#000" stroke-width="2.9"/>
<text x="4162.8" y="1983.5" font-size="48" text-anchor="middle" fill="#000" stroke="#000" stroke-width="0.45">Trq</text>
<text x="4162.8" y="2044" font-size="48" text-anchor="middle" fill="#000" stroke="#000" stroke-width="0.45">Ref</text>
<text x="4162.8" y="2104.6" font-size="48" text-anchor="middle" fill="#000" stroke="#000" stroke-width="0.45">CAM</text>
<!--SECTION4-->
<rect x="760.7" y="1340.4" width="253.29999999999995" height="797.5999999999999" fill="#fff" stroke="#000" stroke-width="2.9"/>
<text x="887.7" y="1725" font-size="49" text-anchor="middle" fill="#000" stroke="#000" stroke-width="0.45">Load</text>
<text x="887.7" y="1784" font-size="49" text-anchor="middle" fill="#000" stroke="#000" stroke-width="0.45">Observer</text>
<text x="463.4" y="1492" font-size="41.5" text-anchor="end" fill="#000" stroke="#000" stroke-width="0.45">c LdObs Kp</text>
<polyline points="637.5,1480.2 760.7,1480.2" fill="none" stroke="#000" stroke-width="2.9" stroke-linecap="butt" stroke-linejoin="miter"/>
<polyline points="687.3,1480.2 687.3,1558 639,1558" fill="none" stroke="#000" stroke-width="2.9" stroke-linecap="butt" stroke-linejoin="miter"/>
<polygon points="488.0,1481.3 525.5,1443.3 600.5,1443.3 638.0,1481.3 600.5,1519.3 525.5,1519.3" fill="#fff" stroke="#000" stroke-width="2.9"/>
<text x="563" y="1493.7" font-size="41.5" text-anchor="middle" fill="#000" stroke="#000" stroke-width="0.45">2021</text>
<ellipse cx="563.8" cy="1557.4" rx="75.5" ry="37.5" fill="#fff" stroke="#000" stroke-width="2.9"/>
<text x="563.8" y="1569.8000000000002" font-size="41.5" text-anchor="middle" fill="#000" stroke="#000" stroke-width="0.45">2022</text>
<text x="467" y="1567" font-size="41.5" text-anchor="end" fill="#000" stroke="#000" stroke-width="0.45">u LdObs Kp</text>
<text x="466" y="1763.6" font-size="41.5" text-anchor="end" fill="#000" stroke="#000" stroke-width="0.45">c LdObs Ki</text>
<line x1="636.4" y1="1749" x2="760.7" y2="1749" stroke="#000" stroke-width="2.9" stroke-linecap="butt"/>
<polyline points="685.7,1749 685.7,1826.8 637.5,1826.8" fill="none" stroke="#000" stroke-width="2.9" stroke-linecap="butt" stroke-linejoin="miter"/>
<polygon points="486.2,1749.0 523.7,1711.0 598.7,1711.0 636.2,1749.0 598.7,1787.0 523.7,1787.0" fill="#fff" stroke="#000" stroke-width="2.9"/>
<text x="561.2" y="1761.4" font-size="41.5" text-anchor="middle" fill="#000" stroke="#000" stroke-width="0.45">2023</text>
<ellipse cx="562" cy="1825.6" rx="75.5" ry="37.5" fill="#fff" stroke="#000" stroke-width="2.9"/>
<text x="562" y="1838.0" font-size="41.5" text-anchor="middle" fill="#000" stroke="#000" stroke-width="0.45">2024</text>
<text x="467.7" y="1838.6" font-size="41.5" text-anchor="end" fill="#000" stroke="#000" stroke-width="0.45">u LdObs Ki</text>
<text x="472.5" y="1967" font-size="41.5" text-anchor="end" fill="#000" stroke="#000" stroke-width="0.45">LdObs VelFb In</text>
<text x="428.6" y="2015.4" font-size="41.5" text-anchor="end" fill="#000" stroke="#000" stroke-width="0.45" font-style="italic">Fdbk [G3]</text>
<line x1="636" y1="1952.7" x2="760.7" y2="1952.7" stroke="#000" stroke-width="2.9" stroke-linecap="butt"/>
<polygon points="486.0,1952.7 523.5,1914.7 598.5,1914.7 636.0,1952.7 598.5,1990.7 523.5,1990.7" fill="#fff" stroke="#000" stroke-width="2.9"/>
<text x="561" y="1965.1000000000001" font-size="41.5" text-anchor="middle" fill="#000" stroke="#000" stroke-width="0.45">2028</text>
<text x="1376" y="1551" font-size="41.5" text-anchor="middle" fill="#000" stroke="#000" stroke-width="0.45">LdObs Mode</text>
<ellipse cx="1399.4" cy="1605.8" rx="75.5" ry="37.5" fill="#fff" stroke="#000" stroke-width="2.9"/>
<text x="1399.4" y="1618.2" font-size="41.5" text-anchor="middle" fill="#000" stroke="#000" stroke-width="0.45">2020</text>
<line x1="1399.3" y1="1640" x2="1399.3" y2="1985" stroke="#000" stroke-width="2.0" stroke-linecap="butt" stroke-dasharray="23.4,12.6"/>
<text x="1026" y="1730" font-size="33.5" text-anchor="start" fill="#000" stroke="#000" stroke-width="0.45">Disabled</text>
<text x="1179" y="1730" font-size="40" text-anchor="middle" fill="#000" stroke="#000" stroke-width="0.45">0</text>
<line x1="1205.4" y1="1719.6" x2="1380" y2="1719.6" stroke="#000" stroke-width="2.9" stroke-linecap="butt"/>
<line x1="1380" y1="1680.5" x2="1380" y2="1757" stroke="#000" stroke-width="2.9" stroke-linecap="butt"/>
<line x1="1418" y1="1680.5" x2="1418" y2="1757" stroke="#000" stroke-width="2.9" stroke-linecap="butt"/>
<line x1="1380" y1="1786.6" x2="1380" y2="1862.7" stroke="#000" stroke-width="2.9" stroke-linecap="butt"/>
<line x1="1418" y1="1786.6" x2="1418" y2="1862.7" stroke="#000" stroke-width="2.9" stroke-linecap="butt"/>
<line x1="1380" y1="1904.5" x2="1380" y2="1981" stroke="#000" stroke-width="2.9" stroke-linecap="butt"/>
<line x1="1418" y1="1904.5" x2="1418" y2="1981" stroke="#000" stroke-width="2.9" stroke-linecap="butt"/>
<text x="1294.8" y="1705" font-size="40" text-anchor="start" fill="#000" stroke="#000" stroke-width="0.45">0,3</text>
<text x="1348.4" y="1810.7" font-size="40" text-anchor="end" fill="#000" stroke="#000" stroke-width="0.45">1,2,4</text>
<text x="1290" y="1928.6" font-size="40" text-anchor="start" fill="#000" stroke="#000" stroke-width="0.45">2,3</text>
<line x1="1018" y1="1824" x2="1380" y2="1824" stroke="#000" stroke-width="2.9" stroke-linecap="butt"/>
<line x1="1014" y1="1943" x2="1380" y2="1943" stroke="#000" stroke-width="2.9" stroke-linecap="butt"/>
<line x1="1014" y1="2042.7" x2="1501" y2="2042.7" stroke="#000" stroke-width="2.9" stroke-linecap="butt"/>
<line x1="1418" y1="1719.6" x2="1924" y2="1719.6" stroke="#000" stroke-width="2.9" stroke-linecap="butt"/>
<circle cx="1523" cy="1719.6" r="10.5" fill="#000"/>
<circle cx="1659.6" cy="1719.6" r="10.5" fill="#000"/>
<line x1="1418" y1="1824" x2="1523" y2="1824" stroke="#000" stroke-width="2.9" stroke-linecap="butt"/>
<line x1="1659.6" y1="1627" x2="1659.6" y2="1719.6" stroke="#000" stroke-width="2.9" stroke-linecap="butt"/>
<text x="1661.8" y="1489" font-size="37" text-anchor="middle" fill="#000" stroke="#000" stroke-width="0.45">LdObs</text>
<text x="1661.8" y="1533" font-size="37" text-anchor="middle" fill="#000" stroke="#000" stroke-width="0.45">Accel Est</text>
<polygon points="1584.6,1589.0 1622.1,1551.0 1697.1,1551.0 1734.6,1589.0 1697.1,1627.0 1622.1,1627.0" fill="#fff" stroke="#000" stroke-width="2.9"/>
<text x="1659.6" y="1601.4" font-size="41.5" text-anchor="middle" fill="#000" stroke="#000" stroke-width="0.45">2035</text>
<line x1="1418" y1="1943" x2="1504" y2="1943" stroke="#000" stroke-width="2.9" stroke-linecap="butt"/>
<polygon points="1504.2,1943.0 1541.7,1905.0 1615.7,1905.0 1653.2,1943.0 1615.7,1981.0 1541.7,1981.0" fill="#fff" stroke="#000" stroke-width="2.9"/>
<text x="1578.7" y="1955.4" font-size="41.5" text-anchor="middle" fill="#000" stroke="#000" stroke-width="0.45">2034</text>
<line x1="1652" y1="1943" x2="1752" y2="1943" stroke="#000" stroke-width="9.5" stroke-linecap="butt"/>
<polygon points="1808.0,1943.0 1750.0,1923.7 1750.0,1962.3" fill="#000"/>
<text x="1593.7" y="1891" font-size="41.5" text-anchor="middle" fill="#000" stroke="#000" stroke-width="0.45">LdObs Vel Est</text>
<text x="1812" y="1952.7" font-size="37" text-anchor="start" fill="#000" stroke="#000" stroke-width="0.45">Vel Feedback</text>
<text x="1856" y="2011.6" font-size="37" text-anchor="start" fill="#000" stroke="#000" stroke-width="0.45" font-style="italic">Fdbk [E3]</text>
<polygon points="1501.3,2042.7 1538.8,2004.7 1613.8,2004.7 1651.3,2042.7 1613.8,2080.7 1538.8,2080.7" fill="#fff" stroke="#000" stroke-width="2.9"/>
<text x="1576.3" y="2055.1" font-size="41.5" text-anchor="middle" fill="#000" stroke="#000" stroke-width="0.45">2031</text>
<text x="1571" y="2134.8" font-size="41.5" text-anchor="middle" fill="#000" stroke="#000" stroke-width="0.45">LdObs Vel Error</text>
<text x="833" y="2301" font-size="41.5" text-anchor="middle" fill="#000" stroke="#000" stroke-width="0.45">Trq Commanded</text>
<text x="302.7" y="2364" font-size="41.5" text-anchor="start" fill="#000" stroke="#000" stroke-width="0.45" font-style="italic">Trq Ref Sel [H5]</text>
<line x1="621.4" y1="2349.3" x2="730" y2="2349.3" stroke="#000" stroke-width="2.9" stroke-linecap="butt"/>
<polygon points="765.0,2349.3 724.0,2335.9 724.0,2362.7" fill="#000"/>
<polygon points="765.0,2349.3 802.5,2311.3 877.5,2311.3 915.0,2349.3 877.5,2387.3 802.5,2387.3" fill="#fff" stroke="#000" stroke-width="2.9"/>
<text x="840" y="2361.7000000000003" font-size="41.5" text-anchor="middle" fill="#000" stroke="#000" stroke-width="0.45">2073</text>
<line x1="915" y1="2349.3" x2="1889" y2="2349.3" stroke="#000" stroke-width="2.9" stroke-linecap="butt"/>
<rect x="1889" y="2288.8" width="239" height="300.0" fill="#fff" stroke="#7a7a7a" stroke-width="1.6"/>
<rect x="1916.8" y="2320" width="179.00000000000023" height="230" fill="none" stroke="#000" stroke-width="1.8" stroke-dasharray="4,3"/>
<line x1="1916.8" y1="2345.5" x2="1962.5" y2="2345.5" stroke="#000" stroke-width="2.9" stroke-linecap="butt"/>
<circle cx="1972" cy="2345.5" r="9.5" fill="#fff" stroke="#000" stroke-width="2.4"/>
<line x1="1916.8" y1="2392.5" x2="1962.5" y2="2392.5" stroke="#000" stroke-width="2.9" stroke-linecap="butt"/>
<circle cx="1972" cy="2392.5" r="9.5" fill="#fff" stroke="#000" stroke-width="2.4"/>
<line x1="1916.8" y1="2439.8" x2="1962.5" y2="2439.8" stroke="#000" stroke-width="2.9" stroke-linecap="butt"/>
<circle cx="1972" cy="2439.8" r="9.5" fill="#fff" stroke="#000" stroke-width="2.4"/>
<circle cx="2040.7" cy="2392.5" r="9.5" fill="#fff" stroke="#000" stroke-width="2.4"/>
<line x1="1968" y1="2358" x2="2031.8" y2="2392" stroke="#000" stroke-width="2.9" stroke-linecap="butt"/>
<line x1="2050.2" y1="2392.5" x2="2095.8" y2="2392.5" stroke="#000" stroke-width="2.9" stroke-linecap="butt"/>
<line x1="1916.8" y1="2460.6" x2="2095.8" y2="2460.6" stroke="#000" stroke-width="2.9" stroke-linecap="butt"/>
<text x="2007.5" y="2495.9" font-size="33" text-anchor="middle" fill="#000" stroke="#000" stroke-width="0.45" font-style="italic" text-decoration="underline">Parameter</text>
<text x="2007.5" y="2535.3" font-size="33" text-anchor="middle" fill="#000" stroke="#000" stroke-width="0.45" font-style="italic" text-decoration="underline">Selection</text>
<line x1="2007.6" y1="2588.8" x2="2007.6" y2="2631.7" stroke="#000" stroke-width="2.9" stroke-linecap="butt"/>
<ellipse cx="2007" cy="2669" rx="75.5" ry="37.5" fill="#fff" stroke="#000" stroke-width="2.9"/>
<text x="2007" y="2681.4" font-size="41.5" text-anchor="middle" fill="#000" stroke="#000" stroke-width="0.45">2000</text>
<text x="1656" y="2681.6" font-size="41.5" text-anchor="start" fill="#000" stroke="#000" stroke-width="0.45">Trq Ref A Sel</text>
<path d="M2128,2393.4 L2229,2393.4 A13,13 0 0 1 2255,2393.4 L2304,2393.4" fill="none" stroke="#000" stroke-width="2.9"/>
<polygon points="1411.0,2425.6 1451.0,2387.8 1531.6,2387.8 1571.6,2425.6 1531.6,2463.4 1451.0,2463.4" fill="#a0a0a0" stroke="#000" stroke-width="2.9"/>
<text x="1492" y="2435.4" font-size="33" text-anchor="middle" fill="#000" stroke="#000" stroke-width="0.45">1..4:203</text>
<polygon points="1411.0,2517.2 1451.0,2479.4 1530.0,2479.4 1570.0,2517.2 1530.0,2554.9 1451.0,2554.9" fill="#a0a0a0" stroke="#000" stroke-width="2.9"/>
<text x="1491" y="2529" font-size="33" text-anchor="middle" fill="#000" stroke="#000" stroke-width="0.45">1..4:206</text>
<line x1="1571.7" y1="2425.3" x2="1656.8" y2="2425.3" stroke="#000" stroke-width="2.9" stroke-linecap="butt"/>
<line x1="1805" y1="2425.3" x2="1889" y2="2425.3" stroke="#000" stroke-width="2.9" stroke-linecap="butt"/>
<line x1="1570" y1="2517.2" x2="1656.8" y2="2517.2" stroke="#000" stroke-width="2.9" stroke-linecap="butt"/>
<line x1="1805" y1="2517.2" x2="1889" y2="2517.2" stroke="#000" stroke-width="2.9" stroke-linecap="butt"/>
<text x="1658.4" y="2435.4" font-size="33" text-anchor="start" fill="#000" stroke="#000" stroke-width="0.45">TLink In 1</text>
<text x="1657.6" y="2527.4" font-size="33" text-anchor="start" fill="#000" stroke="#000" stroke-width="0.45">TLink In 2</text>
<polyline points="1085.6,2649.5 1210,2649.5 1210,2775.5 1240,2775.5" fill="none" stroke="#000" stroke-width="2.9" stroke-linecap="butt" stroke-linejoin="miter"/>
<polygon points="1273.0,2775.5 1233.0,2762.1 1233.0,2788.9" fill="#000"/>
<ellipse cx="1011" cy="2649.5" rx="74.6" ry="37.6" fill="#fff" stroke="#000" stroke-width="2.9"/>
<text x="1011" y="2661.9" font-size="41.5" text-anchor="middle" fill="#000" stroke="#000" stroke-width="0.45">30</text>
<text x="909.6" y="2660" font-size="42.2" text-anchor="end" fill="#000" stroke="#000" stroke-width="0.45">PsnVelTrq Mode A</text>
<polyline points="1086,2752.4 1172.5,2752.4 1172.5,2836 1240,2836" fill="none" stroke="#000" stroke-width="2.9" stroke-linecap="butt" stroke-linejoin="miter"/>
<polygon points="1273.0,2836.0 1233.0,2822.6 1233.0,2849.4" fill="#000"/>
<ellipse cx="1011" cy="2752.4" rx="74.6" ry="37.6" fill="#fff" stroke="#000" stroke-width="2.9"/>
<text x="1011" y="2764.8" font-size="41.5" text-anchor="middle" fill="#000" stroke="#000" stroke-width="0.45">31</text>
<text x="909.6" y="2763.7" font-size="42.2" text-anchor="end" fill="#000" stroke="#000" stroke-width="0.45">PsnVelTrq Mode B</text>
<polyline points="1086,2859.8 1142,2859.8 1142,2901.6 1240,2901.6" fill="none" stroke="#000" stroke-width="2.9" stroke-linecap="butt" stroke-linejoin="miter"/>
<polygon points="1273.0,2901.6 1233.0,2888.2 1233.0,2915.0" fill="#000"/>
<ellipse cx="1011" cy="2859.8" rx="74.6" ry="37.6" fill="#fff" stroke="#000" stroke-width="2.9"/>
<text x="1011" y="2872.2000000000003" font-size="41.5" text-anchor="middle" fill="#000" stroke="#000" stroke-width="0.45">32</text>
<text x="909.6" y="2866.7" font-size="42.2" text-anchor="end" fill="#000" stroke="#000" stroke-width="0.45">PsnVelTrq Mode C</text>
<polyline points="1086,2958 1240,2958" fill="none" stroke="#000" stroke-width="2.9" stroke-linecap="butt" stroke-linejoin="miter"/>
<polygon points="1273.0,2958.0 1233.0,2944.6 1233.0,2971.4" fill="#000"/>
<ellipse cx="1011" cy="2958" rx="74.6" ry="37.6" fill="#fff" stroke="#000" stroke-width="2.9"/>
<text x="1011" y="2970.4" font-size="41.5" text-anchor="middle" fill="#000" stroke="#000" stroke-width="0.45">33</text>
<text x="909.6" y="2969.8" font-size="42.2" text-anchor="end" fill="#000" stroke="#000" stroke-width="0.45">PsnVelTrq Mode D</text>
<text x="909.6" y="3084" font-size="41.5" text-anchor="end" fill="#000" stroke="#000" stroke-width="0.45">DI SpTqPs Sel 1</text>
<text x="912" y="3160.8" font-size="41.5" text-anchor="end" fill="#000" stroke="#000" stroke-width="0.45">DI SpTqPs Sel 0</text>
<polyline points="1088,3070 1306,3070 1306,3025" fill="none" stroke="#000" stroke-width="2.9" stroke-linecap="butt" stroke-linejoin="miter"/>
<polyline points="1088,3145.8 1367.3,3145.8 1367.3,3025" fill="none" stroke="#000" stroke-width="2.9" stroke-linecap="butt" stroke-linejoin="miter"/>
<polygon points="1306.0,2993.0 1292.6,3031.5 1319.4,3031.5" fill="#000"/>
<polygon points="1367.3,2993.0 1353.9,3031.5 1380.7,3031.5" fill="#000"/>
<ellipse cx="1013" cy="3070" rx="75.5" ry="37.5" fill="#fff" stroke="#000" stroke-width="2.9"/>
<text x="1013" y="3082.4" font-size="41.5" text-anchor="middle" fill="#000" stroke="#000" stroke-width="0.45">0:161</text>
<ellipse cx="1013" cy="3145.8" rx="75.5" ry="37.5" fill="#fff" stroke="#000" stroke-width="2.9"/>
<text x="1013" y="3158.2000000000003" font-size="41.5" text-anchor="middle" fill="#000" stroke="#000" stroke-width="0.45">0:160</text>
<rect x="1273" y="2677.3" width="122.70000000000005" height="313.89999999999964" fill="#fff" stroke="#000" stroke-width="1.4"/>
<line x1="1273" y1="2747" x2="1395.7" y2="2747" stroke="#000" stroke-width="1.4" stroke-linecap="butt"/>
<line x1="1273" y1="2807.7" x2="1395.7" y2="2807.7" stroke="#000" stroke-width="1.4" stroke-linecap="butt"/>
<line x1="1273" y1="2869.4" x2="1395.7" y2="2869.4" stroke="#000" stroke-width="1.4" stroke-linecap="butt"/>
<line x1="1273" y1="2930" x2="1395.7" y2="2930" stroke="#000" stroke-width="1.4" stroke-linecap="butt"/>
<line x1="1334" y1="2747" x2="1334" y2="2991.2" stroke="#000" stroke-width="1.4" stroke-linecap="butt"/>
<text x="1334" y="2704.7" font-size="25" text-anchor="middle" fill="#000" stroke="#000" stroke-width="0.45">ABCD</text>
<text x="1334" y="2735.3" font-size="25" text-anchor="middle" fill="#000" stroke="#000" stroke-width="0.45">Select</text>
<text x="1304.5" y="2790.5" font-size="34" text-anchor="middle" fill="#000" stroke="#000" stroke-width="0.45">0</text>
<text x="1364.6" y="2790.5" font-size="34" text-anchor="middle" fill="#000" stroke="#000" stroke-width="0.45">0</text>
<text x="1304.5" y="2851.7" font-size="34" text-anchor="middle" fill="#000" stroke="#000" stroke-width="0.45">0</text>
<text x="1364.6" y="2851.7" font-size="34" text-anchor="middle" fill="#000" stroke="#000" stroke-width="0.45">1</text>
<text x="1304.5" y="2912.4" font-size="34" text-anchor="middle" fill="#000" stroke="#000" stroke-width="0.45">1</text>
<text x="1364.6" y="2912.4" font-size="34" text-anchor="middle" fill="#000" stroke="#000" stroke-width="0.45">0</text>
<text x="1304.5" y="2974" font-size="34" text-anchor="middle" fill="#000" stroke="#000" stroke-width="0.45">1</text>
<text x="1364.6" y="2974" font-size="34" text-anchor="middle" fill="#000" stroke="#000" stroke-width="0.45">1</text>
<line x1="1395.7" y1="2869.4" x2="2930" y2="2869.4" stroke="#000" stroke-width="2.9" stroke-linecap="butt"/>
<polygon points="2963.2,2869.4 2927.2,2856.0 2927.2,2882.8" fill="#000"/>
<text x="2386.5" y="2551.8" font-size="41.5" text-anchor="start" fill="#000" stroke="#000" stroke-width="0.45" font-style="italic">Prof Ind 1 [H2],</text>
<text x="2386.5" y="2601.8" font-size="41.5" text-anchor="start" fill="#000" stroke="#000" stroke-width="0.45" font-style="italic">VReg Vect [D6],</text>
<text x="2386.5" y="2651.4" font-size="41.5" text-anchor="start" fill="#000" stroke="#000" stroke-width="0.45" font-style="italic">PRef 1 [D2, H1],</text>
<text x="2386.5" y="2701.7" font-size="41.5" text-anchor="start" fill="#000" stroke="#000" stroke-width="0.45" font-style="italic">VRef All [A1],</text>
<text x="2386.5" y="2751.3" font-size="41.5" text-anchor="start" fill="#000" stroke="#000" stroke-width="0.45" font-style="italic">VRef All [D2]</text>
<polygon points="2907.5,2691.3 2945.0,2653.3 3019.0,2653.3 3056.5,2691.3 3019.0,2729.3 2945.0,2729.3" fill="#fff" stroke="#000" stroke-width="2.9"/>
<text x="2982" y="2703.7000000000003" font-size="41.5" text-anchor="middle" fill="#000" stroke="#000" stroke-width="0.45">34</text>
<text x="3066.8" y="2700.4" font-size="41.5" text-anchor="start" fill="#000" stroke="#000" stroke-width="0.45">PsnVelTrq Actv</text>
<line x1="2982" y1="2729.3" x2="2982" y2="2767.5" stroke="#000" stroke-width="2.9" stroke-linecap="butt"/>
<rect x="2963.2" y="2767.5" width="543.6000000000004" height="196.4000000000001" fill="#fff" stroke="#333" stroke-width="1.5"/>
<text x="3235.8" y="2849" font-size="49" text-anchor="middle" fill="#000" stroke="#000" stroke-width="0.45">Select</text>
<text x="3235.8" y="2908.6" font-size="49" text-anchor="middle" fill="#000" stroke="#000" stroke-width="0.45">Logic</text>
<text x="2657.3" y="3028.8" font-size="41.5" text-anchor="end" fill="#000" stroke="#000" stroke-width="0.45">SLAT Err Stpt</text>
<text x="2661" y="3100" font-size="41.5" text-anchor="end" fill="#000" stroke="#000" stroke-width="0.45">SLAT Dwell Time</text>
<ellipse cx="2755" cy="3013.7" rx="75" ry="37.5" fill="#fff" stroke="#000" stroke-width="2.9"/>
<text x="2755" y="3026.1" font-size="41.5" text-anchor="middle" fill="#000" stroke="#000" stroke-width="0.45">39</text>
<ellipse cx="2755.2" cy="3092" rx="77.5" ry="37.5" fill="#fff" stroke="#000" stroke-width="2.9"/>
<text x="2755.2" y="3104.4" font-size="41.5" text-anchor="middle" fill="#000" stroke="#000" stroke-width="0.45">40</text>
<path d="M2840.8,2973 Q2860,2973 2860,2992 L2860,3036 Q2860,3052 2877.3,3052 Q2860,3052 2860,3068 L2860,3112 Q2860,3130.8 2840.8,3130.8" fill="none" stroke="#000" stroke-width="2.9"/>
<polyline points="2877.3,3052 3235.3,3052 3235.3,3000" fill="none" stroke="#000" stroke-width="2.9" stroke-linecap="butt" stroke-linejoin="miter"/>
<polygon points="3235.3,2965.0 3221.9,3003.6 3248.7,3003.6" fill="#000"/>
<text x="2257" y="3153.8" font-size="41.5" text-anchor="end" fill="#000" stroke="#000" stroke-width="0.45">Mtr Cfg Options</text>
<text x="2257" y="3196.8" font-size="34" text-anchor="end" fill="#000" stroke="#000" stroke-width="0.45">(Zero TrqStop)</text>
<text x="2257" y="3237" font-size="34" text-anchor="end" fill="#000" stroke="#000" stroke-width="0.45">(Trq ModeStop)</text>
<text x="2257" y="3277.3" font-size="34" text-anchor="end" fill="#000" stroke="#000" stroke-width="0.45">(Trq ModeJog)</text>
<ellipse cx="2337.5" cy="3215.6" rx="76" ry="37.5" fill="#fff" stroke="#000" stroke-width="2.9"/>
<text x="2337.5" y="3228.0" font-size="41.5" text-anchor="middle" fill="#000" stroke="#000" stroke-width="0.45">420</text>
<rect x="2413.7" y="3178" width="226.30000000000018" height="75" fill="#fff" stroke="#000" stroke-width="2.9"/>
<line x1="2489" y1="3178" x2="2489" y2="3253" stroke="#000" stroke-width="2.9" stroke-linecap="butt"/>
<line x1="2565" y1="3178" x2="2565" y2="3253" stroke="#000" stroke-width="2.9" stroke-linecap="butt"/>
<text x="2451.3" y="3229" font-size="41.5" text-anchor="middle" fill="#000" stroke="#000" stroke-width="0.45">0</text>
<text x="2527" y="3229" font-size="41.5" text-anchor="middle" fill="#000" stroke="#000" stroke-width="0.45">1</text>
<text x="2601" y="3229" font-size="41.5" text-anchor="middle" fill="#000" stroke="#000" stroke-width="0.45">2</text>
<polyline points="2640,3215.5 3416.6,3215.5 3416.6,3000" fill="none" stroke="#000" stroke-width="2.9" stroke-linecap="butt" stroke-linejoin="miter"/>
<polygon points="3416.6,2965.0 3403.2,3003.6 3430.0,3003.6" fill="#000"/>
<line x1="3506.8" y1="2803.4" x2="3602.9" y2="2803.4" stroke="#000" stroke-width="2.9" stroke-linecap="butt"/>
<polygon points="3603.0,2803.4 3640.5,2765.4 3714.5,2765.4 3752.0,2803.4 3714.5,2841.4 3640.5,2841.4" fill="#fff" stroke="#000" stroke-width="2.9"/>
<text x="3677.5" y="2815.8" font-size="41.5" text-anchor="middle" fill="#000" stroke="#000" stroke-width="0.45">354</text>
<text x="3537.4" y="2740.6" font-size="41.5" text-anchor="start" fill="#000" stroke="#000" stroke-width="0.45">Motor Side Sts 1</text>
<rect x="3752" y="2764.8" width="255.4000000000001" height="77.79999999999973" fill="#fff" stroke="#000" stroke-width="2.9"/>
<line x1="3836.8" y1="2764.8" x2="3836.8" y2="2842.6" stroke="#000" stroke-width="2.9" stroke-linecap="butt"/>
<line x1="3921.6" y1="2764.8" x2="3921.6" y2="2842.6" stroke="#000" stroke-width="2.9" stroke-linecap="butt"/>
<text x="3794.4" y="2816.8" font-size="41.5" text-anchor="middle" fill="#000" stroke="#000" stroke-width="0.45">21</text>
<text x="3879" y="2816.8" font-size="41.5" text-anchor="middle" fill="#000" stroke="#000" stroke-width="0.45">22</text>
<text x="3964" y="2816.8" font-size="41.5" text-anchor="middle" fill="#000" stroke="#000" stroke-width="0.45">23</text>
<polyline points="3964,2842.6 3964,2920.4 4045,2920.4" fill="none" stroke="#000" stroke-width="2.9" stroke-linecap="butt" stroke-linejoin="miter"/>
<polyline points="3879,2842.6 3879,2976.7 4045,2976.7" fill="none" stroke="#000" stroke-width="2.9" stroke-linecap="butt" stroke-linejoin="miter"/>
<polyline points="3795,2842.6 3795,3033 4045,3033" fill="none" stroke="#000" stroke-width="2.9" stroke-linecap="butt" stroke-linejoin="miter"/>
<text x="4054.7" y="2933.8" font-size="34" text-anchor="start" fill="#000" stroke="#000" stroke-width="0.45">Torque Mode</text>
<text x="4054.7" y="2987.5" font-size="34" text-anchor="start" fill="#000" stroke="#000" stroke-width="0.45">PositionMode</text>
<text x="4054.7" y="3042.7" font-size="34" text-anchor="start" fill="#000" stroke="#000" stroke-width="0.45">Speed Mode</text>
<text x="4223.5" y="3223.6" font-size="41.9" text-anchor="start" fill="#222" stroke="#222" stroke-width="0.45">Rockwell Automation - FRN14 - May 2025</text>
</svg></body></html>
